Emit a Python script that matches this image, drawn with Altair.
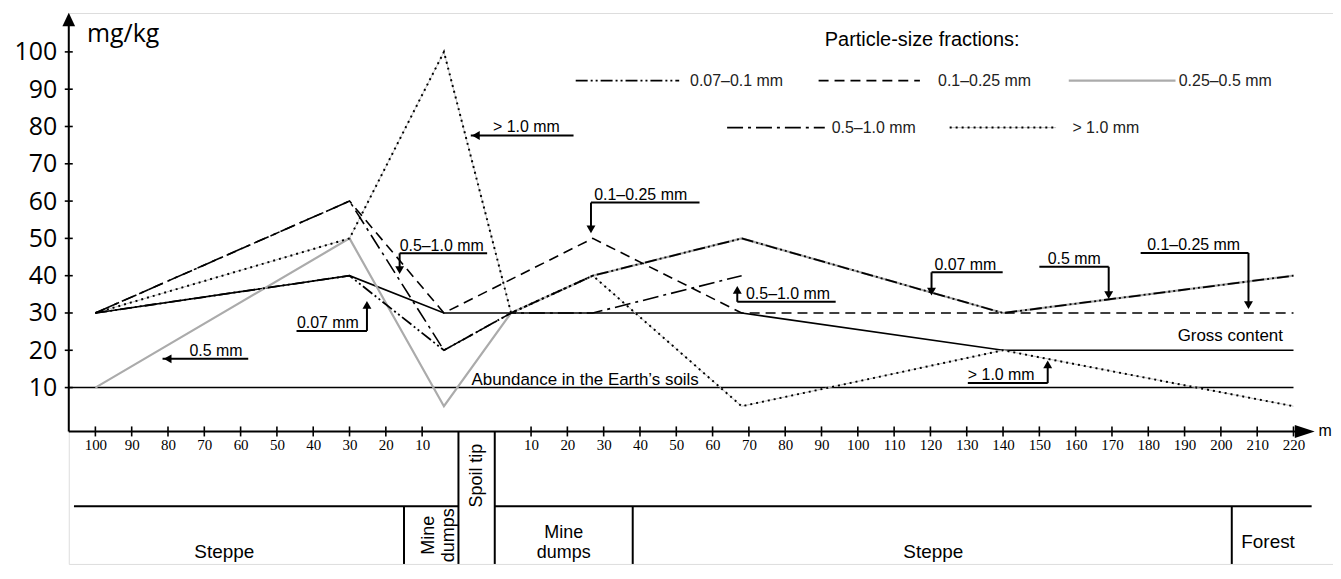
import altair as alt
import pandas as pd

# ---------------- data ----------------
# distance along the profile in metres: negative = left of the spoil tip, positive = right of it
DIST_007 = [-100, -30, -4, 4.5, 27, 68, 140, 220]
VAL_007 = [30, 40, 20, 30, 40, 50, 30, 40]
DIST_010 = [-100, -30, -4, 27, 68, 220]
VAL_010 = [30, 60, 30, 50, 30, 30]
DIST_025 = [-100, -30, -4, 4.5, 27, 68, 140, 220]
VAL_025 = [10, 50, 5, 30, 40, 50, 30, 40]
DIST_050 = [-100, -30, -4, 4.5, 27, 68]
VAL_050 = [30, 60, 20, 30, 30, 40]
DIST_100 = [-100, -30, -4, 4.5, 27, 68, 140, 220]
VAL_100 = [30, 50, 100, 30, 40, 5, 20, 5]
DIST_GROSS = [-100, -30, -4, 68, 140, 220]
VAL_GROSS = [30, 40, 30, 30, 20, 20]
ABUNDANCE_LEVEL = 10

LEFT_TICKS = [100, 90, 80, 70, 60, 50, 40, 30, 20, 10]
RIGHT_TICKS = list(range(10, 221, 10))
Y_TICKS = list(range(10, 101, 10))

SERIES_NAMES = ["0.07–0.1 mm", "0.1–0.25 mm", "0.25–0.5 mm", "0.5–1.0 mm", "> 1.0 mm"]
LEGEND_TITLE = "Particle-size fractions:"

CALLOUT_TEXT = ["> 1.0 mm", "0.1–0.25 mm", "0.5–1.0 mm", "0.07 mm", "0.5 mm",
                "0.5–1.0 mm", "0.07 mm", "0.5 mm", "0.1–0.25 mm", "> 1.0 mm"]

ZONE_TEXT = ["Steppe", "Mine\ndumps", "Spoil tip", "Mine\ndumps", "Steppe", "Forest"]
ZONE_BOUNDS = [-15, 0, 0, 38, 203]  # metres, zone boundaries below the axis

# ---------------- layout (profile coordinate p) ----------------
SPOIL_W = 10.0


def pos(d):
    return 100.0 + d if d < 0 else 100.0 + SPOIL_W + d


XMIN, XMAX = -7.33, 340.88
YMIN, YMAX = -37.29, 110.42
AXIS_V = -1.76
TABLE_V = -21.8

xs = alt.Scale(domain=[XMIN, XMAX], nice=False, zero=False)
ys = alt.Scale(domain=[YMIN, YMAX], nice=False, zero=False)

X_TICK_POS = [pos(-d) for d in LEFT_TICKS] + [pos(d) for d in RIGHT_TICKS]

xaxis = alt.Axis(values=X_TICK_POS,
                 labelExpr="datum.value < 100 ? 100 - datum.value : datum.value - 110",
                 domain=False, ticks=False, tickSize=0, grid=False, title=None,
                 labelFont="Liberation Serif", labelFontSize=15, labelColor="black",
                 labelPadding=6, offset=-133, labelFlush=False, labelOverlap=False)
yaxis = alt.Axis(values=Y_TICKS, domain=False, ticks=False, tickSize=0, grid=False, title=None,
                 labelFont="Open Sans", labelFontSize=25, labelColor="black", labelPadding=12,
                 labelOverlap=False)


def X():
    return alt.X("p:Q", scale=xs, axis=xaxis)


def Y():
    return alt.Y("v:Q", scale=ys, axis=yaxis)


def series_df(dists, vals, sample):
    rows = [{"p": pos(d), "v": v, "g": "data", "o": i} for i, (d, v) in enumerate(zip(dists, vals))]
    p0, p1, lv = sample
    rows += [{"p": p0, "v": lv, "g": "legend", "o": 0}, {"p": p1, "v": lv, "g": "legend", "o": 1}]
    return pd.DataFrame(rows)


def line_layer(df, **kw):
    return alt.Chart(df).mark_line(**kw).encode(x=X(), y=Y(), detail="g:N", order="o:Q")


def rule_layer(rows, **kw):
    df = pd.DataFrame(rows, columns=["p", "p2", "v", "v2"])
    return alt.Chart(df).mark_rule(**kw).encode(x=X(), x2=alt.X2("p2"), y=Y(), y2=alt.Y2("v2"))


def text_layer(rows, **kw):
    df = pd.DataFrame(rows, columns=["p", "v", "t"])
    return alt.Chart(df).mark_text(**kw).encode(x=X(), y=Y(), text="t:N")


def symbol_layer(rows):
    df = pd.DataFrame(rows, columns=["p", "v", "s", "z"])
    return alt.Chart(df).mark_point(filled=True, opacity=1, color="black", strokeWidth=0).encode(
        x=X(), y=Y(), shape=alt.Shape("s:N", scale=None), size=alt.Size("z:Q", scale=None))


# legend samples: (p start, p end, v) and label start
R1, R2 = 92.3, 79.7
SAMPLES = [(132.3, 160.8, R1), (199.2, 227.1, R1), (268.1, 297.5, R1), (174.0, 200.9, R2), (235.3, 264.6, R2)]
SAMPLE_LABEL_P = [163.8, 232.1, 298.4, 202.8, 269.1]

df007 = series_df(DIST_007, VAL_007, SAMPLES[0])
df010 = series_df(DIST_010, VAL_010, SAMPLES[1])
df025 = series_df(DIST_025, VAL_025, SAMPLES[2])
df050 = series_df(DIST_050, VAL_050, SAMPLES[3])
df100 = series_df(DIST_100, VAL_100, SAMPLES[4])
dfgross = pd.DataFrame({"p": [pos(d) for d in DIST_GROSS], "v": VAL_GROSS, "g": "data",
                        "o": list(range(len(DIST_GROSS)))})

layers = []

# axes lines, ticks and arrows
layers.append(rule_layer([(XMIN, 331.0, AXIS_V, AXIS_V), (XMIN, XMIN, AXIS_V, 107.0)],
                         color="black", strokeWidth=2))
layers.append(rule_layer([(p, p, AXIS_V - 1.34, AXIS_V + 1.34) for p in X_TICK_POS],
                         color="black", strokeWidth=1.6))
layers.append(rule_layer([(XMIN - 1.1, XMIN + 1.1, v, v) for v in Y_TICKS],
                         color="black", strokeWidth=1.6))
layers.append(symbol_layer([
    (XMIN, 108.7, "M0,-1L0.95,1L-0.95,1Z", 180),
    (333.1, AXIS_V, "M1,0L-1,-0.65L-1,0.65Z", 400),
]))

# lower zone table
layers.append(rule_layer([(-5.9, 100.0, TABLE_V, TABLE_V), (110.0, 335.0, TABLE_V, TABLE_V)],
                         color="black", strokeWidth=2))
layers.append(rule_layer(
    [(pos(ZONE_BOUNDS[0]), pos(ZONE_BOUNDS[0]), TABLE_V, YMIN),
     (100.0, 100.0, AXIS_V, YMIN),
     (110.0, 110.0, AXIS_V, YMIN),
     (pos(ZONE_BOUNDS[3]), pos(ZONE_BOUNDS[3]), TABLE_V, YMIN),
     (pos(ZONE_BOUNDS[4]), pos(ZONE_BOUNDS[4]), TABLE_V, YMIN)],
    color="black", strokeWidth=2))
layers.append(text_layer([(35.5, -34.0, ZONE_TEXT[0]), (230.8, -34.0, ZONE_TEXT[4]), (323.0, -31.4, ZONE_TEXT[5])],
                         font="Liberation Sans", fontSize=19, align="center", baseline="middle", color="black"))
layers.append(text_layer([(129.0, -29.0, ZONE_TEXT[3])],
                         font="Liberation Sans", fontSize=18, align="center", baseline="middle",
                         lineBreak="\n", lineHeight=20, color="black"))
layers.append(text_layer([(92.0, -29.6, ZONE_TEXT[1]), (105.0, -13.6, ZONE_TEXT[2])],
                         font="Liberation Sans", fontSize=18, align="center", baseline="middle",
                         lineBreak="\n", lineHeight=20, angle=270, color="black"))

# reference lines
layers.append(rule_layer([(XMIN, pos(220), ABUNDANCE_LEVEL, ABUNDANCE_LEVEL)], color="black", strokeWidth=1.6))
layers.append(line_layer(dfgross, color="black", strokeWidth=1.6))

# fractions
layers.append(line_layer(df025, color="#ababab", strokeWidth=2.2))
layers.append(line_layer(df100, color="#c4c4c4", strokeWidth=1))
layers.append(line_layer(df100, color="black", strokeWidth=2, strokeDash=[2, 4]))
layers.append(line_layer(df010, color="black", strokeWidth=1.6, strokeDash=[10, 6]))
layers.append(line_layer(df050, color="black", strokeWidth=1.6, strokeDash=[16, 5, 3, 5]))
layers.append(line_layer(df007, color="black", strokeWidth=1.8, strokeDash=[12, 3, 2, 3, 2, 3]))

# legend texts
layers.append(text_layer([(p, s[2], n) for p, s, n in zip(SAMPLE_LABEL_P, SAMPLES, SERIES_NAMES)],
                         font="Liberation Sans", fontSize=16, align="left", baseline="middle", color="#222222"))
layers.append(text_layer([(200.9, 103.1, LEGEND_TITLE)],
                         font="Liberation Sans", fontSize=20, align="left", baseline="middle", color="black"))

# unit labels
layers.append(text_layer([(-2.3, 102.7, "mg/kg")], font="Open Sans", fontSize=25, align="left",
                         baseline="alphabetic", color="black"))
layers.append(text_layer([(336.9, AXIS_V, "m")], font="Liberation Sans", fontSize=16, align="left",
                         baseline="middle", color="black"))

# line labels
layers.append(text_layer([(327.1, 22.5, "Gross content")], font="Liberation Sans", fontSize=17,
                         align="right", baseline="alphabetic", color="black"))
layers.append(text_layer([(134.9, 10.7, "Abundance in the Earth’s soils")], font="Liberation Sans",
                         fontSize=17, align="center", baseline="alphabetic", color="black"))

# callouts
CALLOUT_TX = [109.5, 137.4, 83.8, 55.5, 25.9, 179.2, 231.1, 262.3, 289.7, 240.3]
CALLOUT_TV = [78.4, 60.3, 46.7, 26.0, 18.5, 33.8, 41.6, 43.1, 46.8, 12.0]
layers.append(text_layer(list(zip(CALLOUT_TX, CALLOUT_TV, CALLOUT_TEXT)), font="Liberation Sans",
                         fontSize=16, align="left", baseline="alphabetic", color="black"))
UNDER = [(103.4, 131.7, 77.6, 77.6), (136.5, 166.4, 59.6, 59.6), (83.8, 107.9, 46.0, 46.0),
         (55.4, 74.8, 25.2, 25.2), (18.5, 42.1, 17.7, 17.7), (176.8, 203.9, 33.0, 33.0),
         (230.3, 249.9, 40.9, 40.9), (260.0, 279.1, 42.4, 42.4), (287.9, 317.6, 46.1, 46.1),
         (240.3, 262.3, 11.2, 11.2)]
VERT = [(136.5, 136.5, 59.6, 52.0), (83.8, 83.8, 46.0, 41.2), (74.8, 74.8, 25.2, 32.5),
        (176.8, 176.8, 33.0, 36.5), (230.3, 230.3, 40.9, 35.4), (279.1, 279.1, 42.4, 34.5),
        (317.6, 317.6, 46.1, 31.8), (262.3, 262.3, 11.2, 16.5)]
layers.append(rule_layer(UNDER + VERT, color="black", strokeWidth=2))
layers.append(symbol_layer([
    (104.8, 77.6, "triangle-left", 80), (136.5, 52.4, "triangle-down", 80),
    (83.8, 41.5, "triangle-down", 80), (74.8, 32.2, "triangle-up", 80),
    (19.9, 17.7, "triangle-left", 80), (176.8, 36.2, "triangle-up", 80),
    (230.3, 35.7, "triangle-down", 80), (279.1, 34.8, "triangle-down", 80),
    (317.6, 32.1, "triangle-down", 80), (262.3, 16.2, "triangle-up", 80),
]))

chart = alt.layer(*layers).properties(
    width=1269, height=553,
    padding={"left": 61, "top": 4, "right": 0, "bottom": 0},
    autosize=alt.AutoSizeParams(type="none"),
).configure_view(stroke="transparent", strokeWidth=0, strokeOpacity=0).configure(background="white")

chart.save("out.html", embed_options={"renderer": "svg", "actions": False})
